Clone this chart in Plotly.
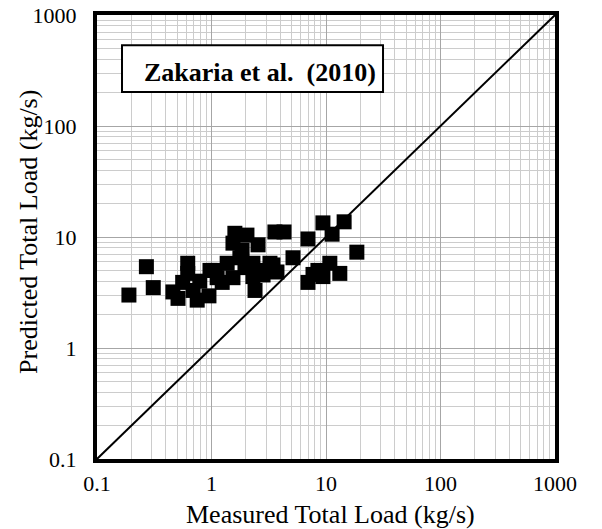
import plotly.graph_objects as go

# Measured vs predicted total load (kg/s)
measured = [0.19, 0.27, 0.31, 0.46, 0.51, 0.56, 0.62, 0.62, 0.69, 0.75,
            0.95, 0.97, 1.12, 1.37, 1.54, 1.77, 2.30, 2.30, 2.82, 3.24,
            3.73, 1.60, 2.04, 3.58, 4.30, 1.54, 2.55, 1.85, 2.40, 3.44,
            5.15, 6.96, 9.4, 11.3, 14.4, 18.6, 6.96, 8.5, 10.8, 13.2,
            9.4, 7.7, 1.24, 1.96, 2.93, 0.79, 1.07]
predicted = [3.0, 5.4, 3.5, 3.2, 2.8, 3.9, 5.8, 4.7, 3.3, 2.7,
             2.95, 5.0, 4.3, 5.8, 4.3, 6.5, 5.8, 4.4, 4.55, 5.8,
             4.84, 10.8, 10.4, 11.1, 11.1, 8.8, 8.5, 7.6, 3.3, 5.6,
             6.5, 9.6, 13.4, 10.6, 13.7, 7.3, 3.9, 5.0, 5.8, 4.7,
             4.4, 4.6, 3.9, 5.3, 5.0, 4.0, 5.0]

line_x = [0.1, 1000]
line_y = [0.1, 1000]

tick_vals = [0.1, 1, 10, 100, 1000]
tick_text = ["0.1", "1", "10", "100", "1000"]

label_text = "<b>Zakaria et al.  (2010)</b>"
x_title = "Measured Total Load (kg/s)"
y_title = "Predicted Total Load (kg/s)"

FONT = "Liberation Serif"

fig = go.Figure()
fig.add_trace(go.Scatter(x=line_x, y=line_y, mode="lines",
                         line=dict(color="black", width=2), showlegend=False,
                         hoverinfo="skip"))
fig.add_trace(go.Scatter(x=measured, y=predicted, mode="markers",
                         marker=dict(symbol="square", size=15, color="black",
                                     line=dict(width=0)),
                         showlegend=False))

axis_common = dict(
    type="log", range=[-1, 3], tickvals=tick_vals, ticktext=tick_text,
    showgrid=True, gridcolor="#a6a6a6", gridwidth=1,
    minor=dict(dtick="D1", showgrid=True, gridcolor="#cccccc", gridwidth=1, ticks=""),
    showline=True, linecolor="black", linewidth=4, mirror=True,
    ticks="", zeroline=False, automargin=False,
    tickfont=dict(family=FONT, size=22, color="black"),
)

fig.update_layout(
    width=602, height=529,
    margin=dict(l=97, r=47, t=15, b=70),
    paper_bgcolor="white", plot_bgcolor="white",
    xaxis=dict(**axis_common, ticklabelstandoff=2),
    yaxis=dict(**axis_common, ticklabelstandoff=12),
    font=dict(family=FONT, color="black"),
)

fig.add_annotation(xref="paper", yref="paper", x=0.509, y=-0.124,
                   text=x_title, showarrow=False,
                   font=dict(family=FONT, size=26, color="black"),
                   xanchor="center", yanchor="middle")
fig.add_annotation(xref="paper", yref="paper", x=-0.151, y=0.511,
                   text=y_title, showarrow=False, textangle=-90,
                   font=dict(family=FONT, size=26, color="black"),
                   xanchor="center", yanchor="middle")

fig.add_shape(type="rect", xref="paper", yref="paper",
              x0=0.0546, x1=0.6245, y0=0.8266, y1=0.932,
              line=dict(color="black", width=2), fillcolor="white", layer="above")
fig.add_annotation(xref="paper", yref="paper", x=0.356, y=0.8716,
                   text=label_text, showarrow=False,
                   font=dict(family=FONT, size=26, color="black"),
                   xanchor="center", yanchor="middle")

fig.write_html("out.html", config={"displayModeBar": False},
               post_script="document.body.style.margin='0';document.body.style.padding='0';")
